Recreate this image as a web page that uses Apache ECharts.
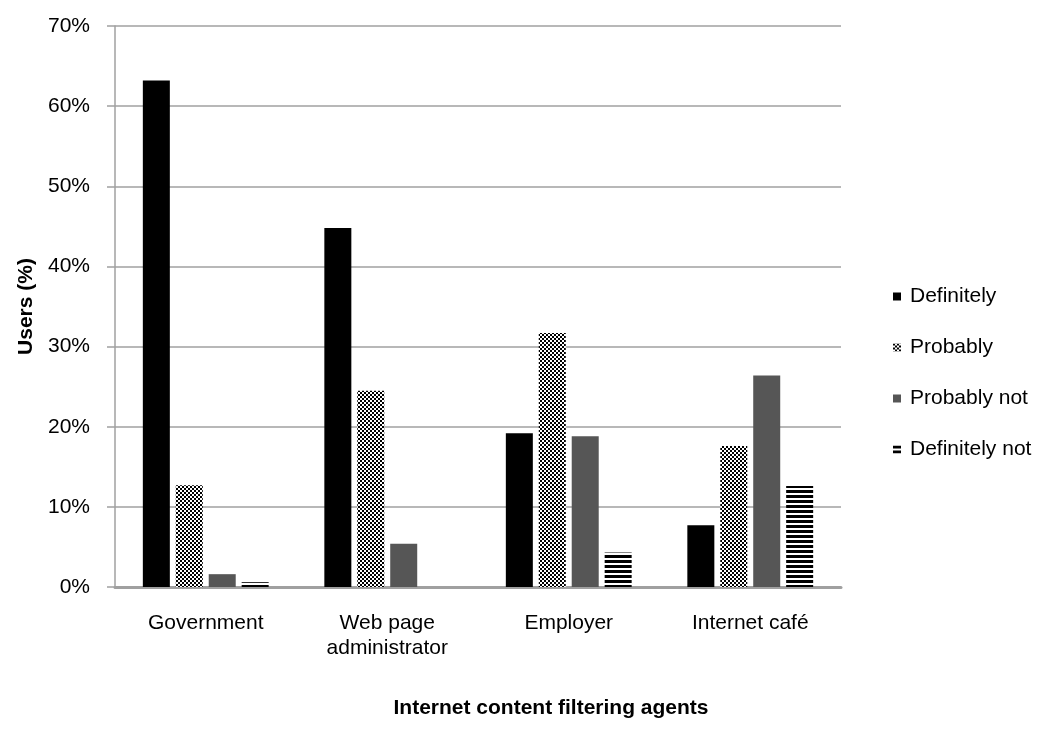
<!DOCTYPE html>
<html>
<head>
    <meta charset="utf-8">
    <title>Internet content filtering agents</title>
    <script src="https://cdn.jsdelivr.net/npm/echarts@6/dist/echarts.min.js"></script>
    <style>
        html, body { margin: 0; padding: 0; background: #fff; }
        #chart { width: 1039px; height: 730px; }
    </style>
</head>
<body>
    <div id="chart"></div>
    <script>
        // data (percent of users)
        var categories = ['Government', 'Web page\nadministrator', 'Employer', 'Internet café'];
        var definitely = [63.2, 44.8, 19.2, 7.7];
        var probably = [12.7, 24.5, 31.7, 17.6];
        var probablyNot = [1.6, 5.4, 18.8, 26.4];
        var definitelyNot = [0.6, 0, 4.3, 12.6];
        var seriesNames = ['Definitely', 'Probably', 'Probably not', 'Definitely not'];

        // checker pattern for "Probably"
        function checker() {
            var c = document.createElement('canvas');
            c.width = 4; c.height = 4;
            var ctx = c.getContext('2d');
            ctx.fillStyle = '#fff';
            ctx.fillRect(0, 0, 4, 4);
            ctx.fillStyle = '#000';
            ctx.fillRect(0, 0, 2, 2);
            ctx.fillRect(2, 2, 2, 2);
            return c;
        }
        // horizontal stripes for "Definitely not"
        function stripes() {
            var c = document.createElement('canvas');
            c.width = 4; c.height = 5;
            var ctx = c.getContext('2d');
            ctx.fillStyle = '#fff';
            ctx.fillRect(0, 0, 4, 5);
            ctx.fillStyle = '#000';
            ctx.fillRect(0, 0, 4, 3);
            return c;
        }

        var fills = [
            '#000000',
            { image: checker(), repeat: 'repeat' },
            '#565656',
            { image: stripes(), repeat: 'repeat' }
        ];
        var values = [definitely, probably, probablyNot, definitelyNot];

        var font = 'Liberation Sans, Arial, sans-serif';
        var myChart = echarts.init(document.getElementById('chart'));

        var option = {
            backgroundColor: '#fff',
            animation: false,
            textStyle: { fontFamily: font },
            // x axis title sits off-centre in the original, so it is a title here
            title: {
                text: 'Internet content filtering agents',
                left: 551,
                top: 698,
                textAlign: 'center',
                padding: 0,
                textStyle: { fontSize: 21, fontWeight: 'bold', color: '#000', fontFamily: font }
            },
            grid: { left: 115, right: 198, top: 26, bottom: 143 },
            legend: {
                orient: 'vertical',
                left: 888,
                top: 281,
                itemWidth: 8,
                itemHeight: 8,
                itemGap: 30,
                icon: 'rect',
                textStyle: { fontSize: 21, color: '#000', fontFamily: font, padding: [0, 0, 0, 4] },
                data: seriesNames
            },
            xAxis: {
                type: 'category',
                data: categories,
                axisLine: { lineStyle: { color: '#a0a0a0', width: 3 } },
                axisTick: { length: 6, lineStyle: { color: '#a0a0a0', width: 3 } },
                axisLabel: { fontSize: 21, color: '#000', margin: 24, lineHeight: 25 }
            },
            yAxis: {
                type: 'value',
                min: 0,
                max: 70,
                interval: 10,
                name: 'Users (%)',
                nameLocation: 'middle',
                nameGap: 74,
                nameTextStyle: { fontSize: 21, fontWeight: 'bold', color: '#000' },
                axisLine: { show: true, lineStyle: { color: '#a0a0a0', width: 1.5 } },
                axisTick: { show: true, length: 8, lineStyle: { color: '#a0a0a0', width: 1.5 } },
                axisLabel: { fontSize: 21, color: '#000', margin: 25, formatter: '{value}%' },
                splitLine: { lineStyle: { color: '#a0a0a0', width: 1.5 } }
            },
            series: seriesNames.map(function (name, i) {
                return {
                    name: name,
                    type: 'bar',
                    data: values[i],
                    barWidth: 27,
                    barGap: '22%',
                    itemStyle: { color: fills[i] }
                };
            })
        };

        myChart.setOption(option);
    </script>
</body>
</html>
